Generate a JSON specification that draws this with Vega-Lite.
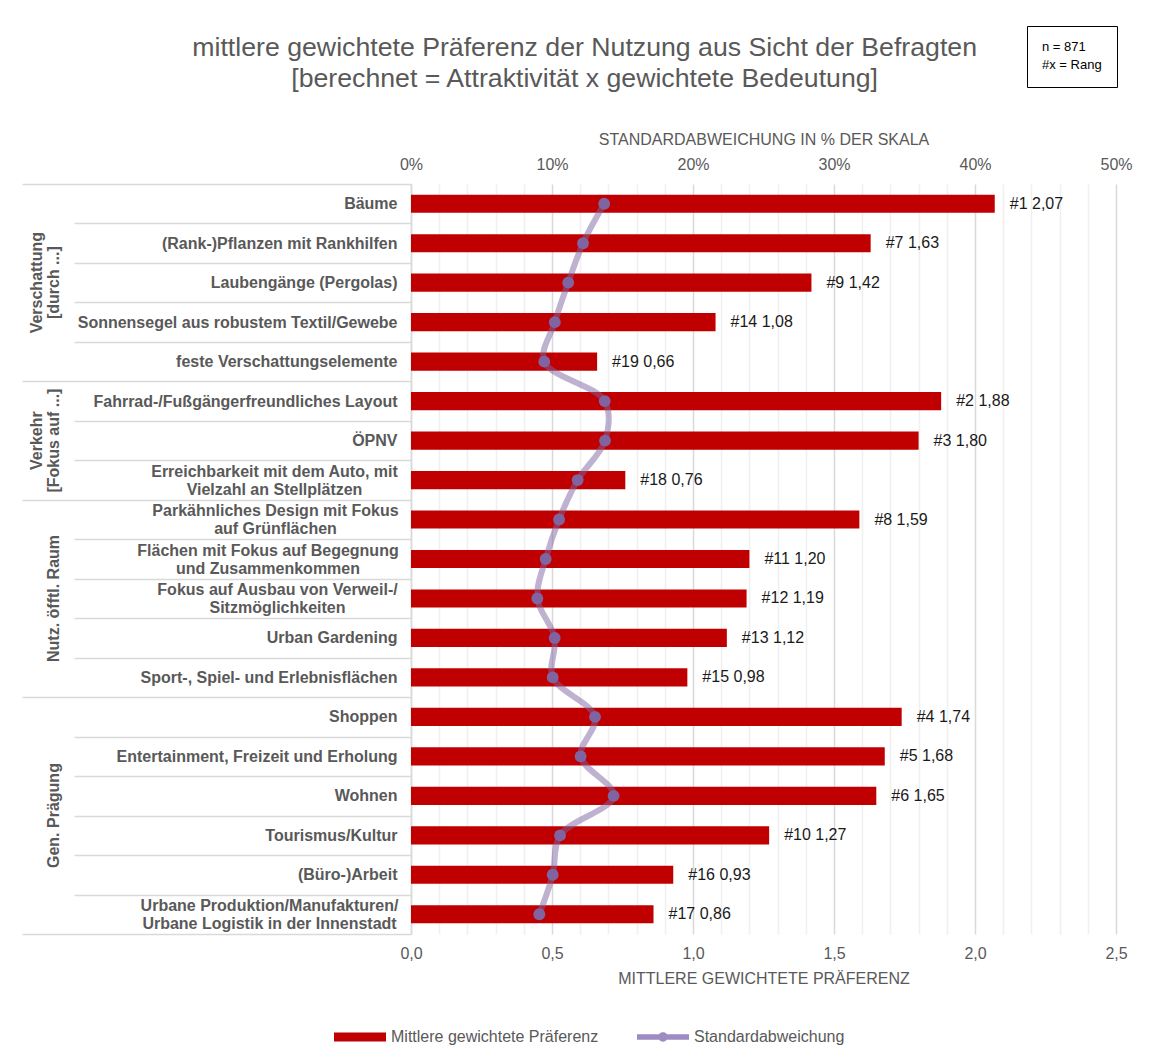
{
  "$schema": "https://vega.github.io/schema/vega-lite/v6.json",
  "width": 705,
  "height": 750,
  "padding": {"left": 21, "top": 25, "right": 5, "bottom": 5},
  "background": "white",
  "title": {
    "text": ["mittlere gewichtete Präferenz der Nutzung aus Sicht der Befragten", "[berechnet = Attraktivität x gewichtete Bedeutung]"],
    "fontSize": 26.7, "fontWeight": "normal", "color": "#595959", "lineHeight": 31,
    "anchor": "middle", "frame": "bounds", "offset": -67, "dx": 8
  },
  "data": {"values": [
    {"item": "Bäume", "pref": 2.07, "rank": 1, "sd": 13.7},
    {"item": "(Rank-)Pflanzen mit Rankhilfen", "pref": 1.63, "rank": 7, "sd": 12.2},
    {"item": "Laubengänge (Pergolas)", "pref": 1.42, "rank": 9, "sd": 11.15},
    {"item": "Sonnensegel aus robustem Textil/Gewebe", "pref": 1.08, "rank": 14, "sd": 10.2},
    {"item": "feste Verschattungselemente", "pref": 0.66, "rank": 19, "sd": 9.45},
    {"item": "Fahrrad-/Fußgängerfreundliches Layout", "pref": 1.88, "rank": 2, "sd": 13.74},
    {"item": "ÖPNV", "pref": 1.80, "rank": 3, "sd": 13.76},
    {"item": "Erreichbarkeit mit dem Auto, mit|Vielzahl an Stellplätzen", "pref": 0.76, "rank": 18, "sd": 11.82},
    {"item": "Parkähnliches Design mit Fokus|auf Grünflächen", "pref": 1.59, "rank": 8, "sd": 10.5},
    {"item": "Flächen mit Fokus auf Begegnung|und Zusammenkommen", "pref": 1.20, "rank": 11, "sd": 9.55},
    {"item": "Fokus auf Ausbau von Verweil-/|Sitzmöglichkeiten", "pref": 1.19, "rank": 12, "sd": 8.96},
    {"item": "Urban Gardening", "pref": 1.12, "rank": 13, "sd": 10.19},
    {"item": "Sport-, Spiel- und Erlebnisflächen", "pref": 0.98, "rank": 15, "sd": 10.05},
    {"item": "Shoppen", "pref": 1.74, "rank": 4, "sd": 13.05},
    {"item": "Entertainment, Freizeit und Erholung", "pref": 1.68, "rank": 5, "sd": 12.03},
    {"item": "Wohnen", "pref": 1.65, "rank": 6, "sd": 14.37},
    {"item": "Tourismus/Kultur", "pref": 1.27, "rank": 10, "sd": 10.57},
    {"item": "(Büro-)Arbeit", "pref": 0.93, "rank": 16, "sd": 10.05},
    {"item": "Urbane Produktion/Manufakturen/|Urbane Logistik in der Innenstadt", "pref": 0.86, "rank": 17, "sd": 9.1}
  ]},
  "resolve": {"scale": {"x": "independent"}, "axis": {"y": "independent", "x": "independent"}},
  "layer": [
    {
      "mark": {"type": "bar", "height": {"band": 0.46}},
      "encoding": {
        "y": {
          "field": "item", "type": "nominal", "sort": null,
          "scale": {"paddingInner": 0, "paddingOuter": 0},
          "axis": {
            "title": null, "orient": "left",
            "labelExpr": "split(datum.label, '|')",
            "labelFontSize": 16, "labelFontWeight": "bold", "labelColor": "#595959", "labelLineHeight": 18,
            "labelLimit": 400, "labelBaseline": "middle",
            "labelOffset": {"condition": {"test": "isValid(datum.value) && indexof(datum.value, '|') >= 0", "value": -9}, "value": 0},
            "domain": true, "domainColor": "#d9d9d9", "domainWidth": 1.5,
            "ticks": true, "tickBand": "extent", "tickColor": "#d9d9d9", "tickWidth": 1.5,
            "tickSize": {"condition": {"test": "!isValid(datum.value) || datum.value === 'feste Verschattungselemente' || datum.value === 'Erreichbarkeit mit dem Auto, mit|Vielzahl an Stellplätzen' || datum.value === 'Sport-, Spiel- und Erlebnisflächen' || datum.value === 'Urbane Produktion/Manufakturen/|Urbane Logistik in der Innenstadt'", "value": 389}, "value": 337},
            "labelAlign": {"condition": {"test": "isValid(datum.value) && indexof(datum.value, '|') >= 0", "value": "center"}, "value": "right"},
            "labelPadding": {"condition": [
              {"test": "datum.value === 'feste Verschattungselemente' || datum.value === 'Sport-, Spiel- und Erlebnisflächen'", "value": -375},
              {"test": "datum.value === 'Erreichbarkeit mit dem Auto, mit|Vielzahl an Stellplätzen'", "value": -252},
              {"test": "datum.value === 'Urbane Produktion/Manufakturen/|Urbane Logistik in der Innenstadt'", "value": -247},
              {"test": "datum.value === 'Parkähnliches Design mit Fokus|auf Grünflächen'", "value": -201},
              {"test": "datum.value === 'Flächen mit Fokus auf Begegnung|und Zusammenkommen'", "value": -193.5},
              {"test": "datum.value === 'Fokus auf Ausbau von Verweil-/|Sitzmöglichkeiten'", "value": -203}
            ], "value": -323},
            "grid": false
          }
        },
        "x": {
          "field": "pref", "type": "quantitative",
          "scale": {"domain": [0, 2.5], "nice": false},
          "axis": {
            "orient": "bottom", "title": "MITTLERE GEWICHTETE PRÄFERENZ",
            "values": [0, 0.1, 0.2, 0.3, 0.4, 0.5, 0.6, 0.7, 0.8, 0.9, 1.0, 1.1, 1.2, 1.3, 1.4, 1.5, 1.6, 1.7, 1.8, 1.9, 2.0, 2.1, 2.2, 2.3, 2.4, 2.5],
            "labelExpr": "round(datum.value * 10) % 5 === 0 ? replace(format(datum.value, '.1f'), '.', ',') : ''",
            "labelFontSize": 16, "labelColor": "#595959", "labelFlush": false, "labelOverlap": false, "labelPadding": 11,
            "titleFontSize": 16, "titleFontWeight": "normal", "titleColor": "#595959", "titlePadding": 9,
            "domain": false, "ticks": false,
            "grid": true,
            "gridColor": {"condition": {"test": "round(datum.value * 10) % 5 === 0", "value": "#d9d9d9"}, "value": "#f0f0f0"},
            "gridWidth": 1.5
          }
        },
        "color": {
          "datum": "Mittlere gewichtete Präferenz",
          "scale": {"domain": ["Mittlere gewichtete Präferenz", "Standardabweichung"], "range": ["#c00000", "#9d8cc4"]},
          "legend": {
            "orient": "none", "legendX": -77, "legendY": 827, "direction": "horizontal", "title": null,
            "labelFontSize": 16, "labelColor": "#595959", "labelLimit": 400, "symbolSize": 2704, "labelOffset": 5, "columnPadding": 38,
            "symbolStrokeWidth": 0, "symbolOpacity": 1,
            "encode": {"symbols": {"update": {"shape": {"signal": "datum.value === 'Standardabweichung' ? 'M-1,-0.11H1V0.11H-1Z M-0.18,0A0.18,0.18 0 1 1 0.18,0A0.18,0.18 0 1 1 -0.18,0Z' : 'M-1,-0.17H1V0.17H-1Z'"}}}}
          }
        }
      }
    },
    {
      "transform": [{"calculate": "'#' + datum.rank + ' ' + replace(format(datum.pref, '.2f'), '.', ',')", "as": "lbl"}],
      "mark": {"type": "text", "align": "left", "baseline": "middle", "dx": 15, "fontSize": 16, "color": "#1a1a1a"},
      "encoding": {
        "y": {"field": "item", "type": "nominal", "sort": null, "axis": null},
        "x": {"field": "pref", "type": "quantitative", "scale": {"domain": [0, 2.5], "nice": false}, "axis": null},
        "text": {"field": "lbl"}
      }
    },
    {
      "mark": {"type": "line", "interpolate": "catmull-rom", "color": "#8064a2", "strokeOpacity": 0.5, "strokeWidth": 6},
      "encoding": {
        "y": {"field": "item", "type": "nominal", "sort": null, "axis": null},
        "x": {
          "field": "sd", "type": "quantitative",
          "scale": {"domain": [0, 50], "nice": false},
          "axis": {
            "orient": "top", "title": "STANDARDABWEICHUNG IN % DER SKALA",
            "values": [0, 10, 20, 30, 40, 50],
            "labelExpr": "datum.value + '%'",
            "labelFontSize": 16, "labelColor": "#595959", "labelFlush": false, "labelPadding": 12,
            "titleFontSize": 16, "titleFontWeight": "normal", "titleColor": "#595959", "titlePadding": 9,
            "domain": false, "ticks": false, "grid": false
          }
        },
        "order": {"value": null}
      }
    },
    {
      "mark": {"type": "point", "filled": true, "color": "#8064a2", "opacity": 1, "size": 140},
      "encoding": {
        "y": {
          "field": "item", "type": "nominal", "sort": null,
          "axis": {
            "orient": "left", "title": null, "domain": false, "ticks": false, "tickSize": 0, "grid": false,
            "labelExpr": "datum.value === 'Laubengänge (Pergolas)' ? ['Verschattung', '[durch ...]'] : datum.value === 'ÖPNV' ? ['Verkehr', '[Fokus auf ...]'] : datum.value === 'Fokus auf Ausbau von Verweil-/|Sitzmöglichkeiten' ? 'Nutz. öfftl. Raum' : datum.value === 'Wohnen' ? 'Gen. Prägung' : ''",
            "labelAngle": 270, "labelAlign": "center", "labelBaseline": "alphabetic",
            "labelOffset": {"condition": {"test": "datum.value === 'Wohnen'", "value": 19.7}, "value": 0},
            "labelPadding": {"condition": {"test": "datum.value === 'Laubengänge (Pergolas)' || datum.value === 'ÖPNV'", "value": 370}, "value": 353},
            "labelFontSize": 16, "labelFontWeight": "bold", "labelColor": "#595959",
            "labelLineHeight": 17, "labelLimit": 400
          }
        },
        "x": {"field": "sd", "type": "quantitative", "scale": {"domain": [0, 50], "nice": false}, "axis": null},
        "shape": {
          "datum": "#x = Rang",
          "scale": {"range": ["circle"]},
          "legend": {
            "title": "n = 871", "orient": "none", "legendX": 616, "legendY": -158,
            "strokeColor": "#000000", "padding": 15, "symbolSize": 0, "symbolOpacity": 0, "labelOffset": -13,
            "titleFontSize": 13, "labelFontSize": 13, "titleFontWeight": "normal", "titleColor": "#000000", "labelColor": "#000000",
            "titlePadding": 4
          }
        }
      }
    }
  ],
  "config": {
    "font": "Liberation Sans",
    "view": {"stroke": null},
    "axis": {"labelFont": "Liberation Sans", "titleFont": "Liberation Sans"},
    "legend": {"labelFont": "Liberation Sans", "titleFont": "Liberation Sans"}
  }
}
